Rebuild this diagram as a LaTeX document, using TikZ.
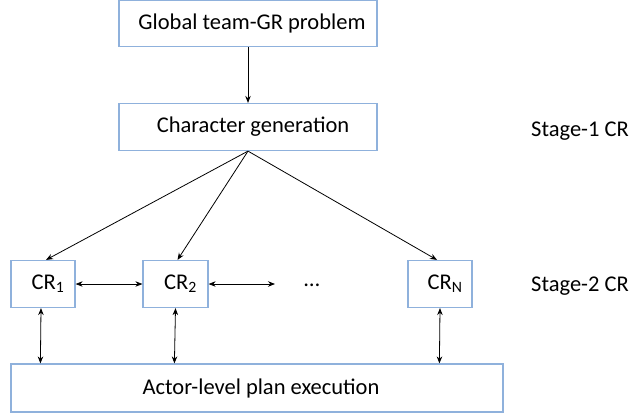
\documentclass[tikz,border=0pt]{standalone}
\usepackage{fontspec}
\setmainfont{Carlito}
\usetikzlibrary{arrows.meta,calc}
\definecolor{boxblue}{HTML}{8FB1DC}
\begin{document}
\begin{tikzpicture}[x=1pt,y=-1pt,
  box/.style={draw=boxblue,line width=1.2pt,fill=white,inner sep=0pt,font=\fontsize{22.5}{26}\selectfont},
  arr/.style={-{Stealth[length=7pt,width=5.5pt]},line width=0.8pt},
  darr/.style={{Stealth[length=7pt,width=5.5pt]}-{Stealth[length=7pt,width=5.5pt]},line width=0.8pt},
  lbl/.style={font=\fontsize{22.5}{26}\selectfont,inner sep=0pt}]
\useasboundingbox (0,0) rectangle (636,415);
\node[box,minimum width=258pt,minimum height=46pt] (glob) at (248,23.5) {\hspace*{8pt}Global team-GR problem};
\node[box,minimum width=258pt,minimum height=47pt] (char) at (248,127) {\hspace*{10pt}Character generation};
\node[box,minimum width=64pt,minimum height=47pt] (cr1) at (43,284) {\hspace*{10pt}CR\textsubscript{1}};
\node[box,minimum width=65pt,minimum height=47pt] (cr2) at (175.5,284) {\hspace*{10pt}CR\textsubscript{2}};
\node[box,minimum width=64pt,minimum height=47pt] (crn) at (440,284) {\hspace*{10pt}CR\textsubscript{N}};
\node[box,minimum width=492pt,minimum height=48pt] (act) at (257,388) {\hspace*{8pt}Actor-level plan execution};
\node[lbl] (dots) at (312,285) {…};
\node[lbl,anchor=west] (st1) at (531,131) {Stage-1 CR};
\node[lbl,anchor=west] (st2) at (531,286) {Stage-2 CR};
\coordinate (free) at (275,284);
\draw[arr] (glob.south) -- (char.north);
\draw[arr] (char.south) -- ($(cr1.north)+(3,0)$);
\draw[arr] (char.south) -- ($(cr2.north)+(2,0)$);
\draw[arr] (char.south) -- ($(crn.north)+(-3,0)$);
\draw[darr] (cr1.east) -- (cr2.west);
\draw[darr] (cr2.east) -- (free);
\draw[darr] ($(cr1.south)+(-2,0)$) -- ($(act.north west)+(30,0)$);
\draw[darr] (cr2.south) -- ($(act.north west)+(164,0)$);
\draw[darr] (crn.south) -- ($(act.north west)+(429,0)$);
\end{tikzpicture}
\end{document}
